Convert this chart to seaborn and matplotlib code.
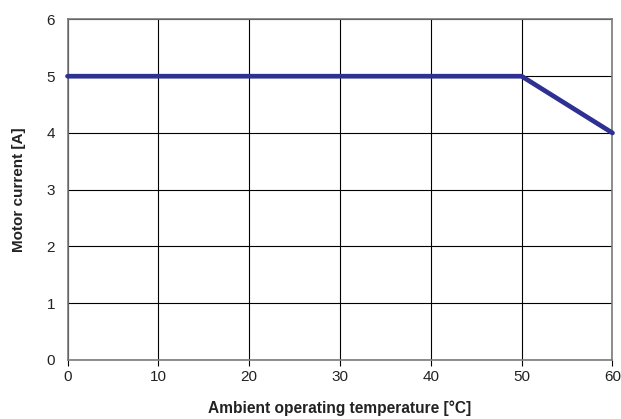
import matplotlib
matplotlib.use("Agg")
import matplotlib.pyplot as plt
import seaborn as sns
import pandas as pd

# Derating curve: motor current vs ambient temperature
temperature_c = [0, 50, 60]
motor_current_a = [5, 5, 4]
x_ticks = [0, 10, 20, 30, 40, 50, 60]
y_ticks = [0, 1, 2, 3, 4, 5, 6]

sns.set_theme(style="white")
plt.rcParams["font.family"] = ["Liberation Sans", "DejaVu Sans"]

df = pd.DataFrame({"temp": temperature_c, "current": motor_current_a})

fig = plt.figure(figsize=(6.21, 4.19), dpi=100)
ax = fig.add_axes([0.1087, 0.141, 0.8776, 0.8125])

sns.lineplot(data=df, x="temp", y="current", ax=ax, color="#2e3192",
             linewidth=3.4, solid_joinstyle="miter", clip_on=False, zorder=5)

ax.set_xlim(0, 60)
ax.set_ylim(0, 6)
ax.set_xticks(x_ticks)
ax.set_yticks(y_ticks)
ax.grid(True, color="black", linewidth=0.8)
ax.set_axisbelow(True)
for s in ax.spines.values():
    s.set_color("#7a7a7a")
    s.set_linewidth(1.2)

ax.tick_params(axis="x", which="major", direction="out", length=4, width=0.8,
               color="black", labelsize=11, pad=3, bottom=True, labelcolor="#222222")
ax.tick_params(axis="y", which="major", length=0, labelsize=11, pad=9, labelcolor="#222222")

ax.set_xlabel("Ambient operating temperature [°C]", fontsize=11.2, fontweight="bold",
              labelpad=12, color="#222222")
ax.set_ylabel("Motor current [A]", fontsize=11, fontweight="bold",
              labelpad=15, color="#222222")

fig.savefig("out.png", dpi=100)
